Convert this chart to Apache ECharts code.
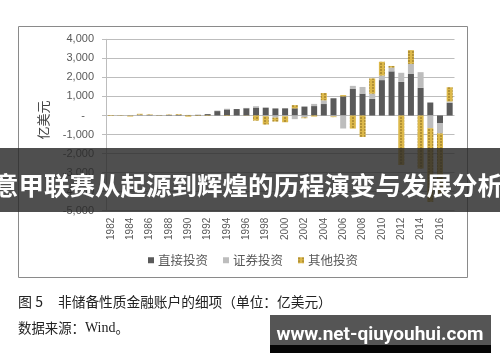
<!DOCTYPE html>
<html><head><meta charset="utf-8">
<script src="https://cdn.jsdelivr.net/npm/echarts@6/dist/echarts.min.js"></script>
<style>html,body{margin:0;padding:0;background:#fff}#c{width:500px;height:362px}</style>
</head><body><div id="c"></div>
<script>
const years = ['1982','1983','1984','1985','1986','1987','1988','1989','1990','1991','1992','1993','1994','1995','1996','1997','1998','1999','2000','2001','2002','2003','2004','2005','2006','2007','2008','2009','2010','2011','2012','2013','2014','2015','2016','2017'];
const direct = [4, 8, 13, 13, 18, 17, 24, 26, 27, 35, 72, 231, 318, 338, 381, 417, 411, 370, 375, 374, 468, 494, 601, 904, 1001, 1391, 1148, 872, 1857, 2317, 1763, 2180, 1450, 681, -417, 663];
const securities = [20, -6, -16, 30, 16, 10, 9, -2, -2, 2, -1, 30, 35, 1, 17, 69, -37, -112, -40, -194, -103, 114, 197, -47, -684, 164, 349, 271, 240, 196, 478, 529, 824, -665, -523, 74];
const other = [-25, -15, -40, 45, 25, -10, 20, 35, -60, -20, -20, 0, -20, 0, -10, -270, -437, -205, -317, 168, -41, -58, 379, -40, 70, -688, -1126, 801, 724, 87, -2601, 722, -2788, -3870, -3167, 744];
const seriesNames = ['直接投资', '证券投资', '其他投资'];
const yTicks = {min: -5000, max: 4000, step: 1000};
const unitName = '亿美元';
const captionTitle = '非储备性质金融账户的细项（单位：亿美元）';
const bannerText = '意甲联赛从起源到辉煌的历程演变与发展分析';
const siteText = 'www.net-qiuyouhui.com';

const chart = echarts.init(document.getElementById('c'), null, {renderer: 'canvas'});
const txt = '#595959';
const gridCol = '#bdbdbd';
chart.setOption({
  animation: false,
  backgroundColor: '#fff',
  grid: {left: 106, right: 45.5, top: 39.3, bottom: 151.3, containLabel: false},
  legend: {
    left: 143, top: 249, itemWidth: 6, itemHeight: 6, itemGap: 15, icon: 'rect',
    textStyle: {fontFamily: 'Noto Sans CJK SC', fontSize: 12.5, color: txt, padding: [0, 0, 0, -1]},
    data: seriesNames
  },
  xAxis: {
    type: 'category', data: years,
    axisLine: {show: false}, axisTick: {show: false},
    axisLabel: {rotate: 90, interval: 1, margin: 7, fontSize: 10, fontFamily: 'Liberation Sans', color: txt}
  },
  yAxis: {
    type: 'value', min: yTicks.min, max: yTicks.max, interval: yTicks.step,
    axisLine: {show: true, lineStyle: {color: gridCol}},
    axisTick: {show: true, length: 4, lineStyle: {color: gridCol}},
    splitLine: {lineStyle: {color: gridCol, width: 1}},
    axisLabel: {
      margin: 12, fontSize: 11, fontFamily: 'Liberation Sans', color: txt,
      formatter: v => v === 0 ? '-   ' : v.toLocaleString('en-US')
    }
  },
  series: [
    {name: seriesNames[0], type: 'bar', stack: 's', data: direct, barWidth: 6, itemStyle: {color: '#5a5a5a'}},
    {name: seriesNames[1], type: 'bar', stack: 's', data: securities, barWidth: 6, itemStyle: {color: '#bdbdbd'}},
    {name: seriesNames[2], type: 'bar', stack: 's', data: other, barWidth: 6,
      itemStyle: {color: '#dcb84a', decal: {symbol: 'rect', symbolSize: 1, color: 'rgba(120,90,25,0.42)', dashArrayX: [2, 2], dashArrayY: [2, 1]}}}
  ],
  graphic: [
    {type: 'rect', shape: {x: 18.5, y: 26.5, width: 449, height: 251}, style: {fill: 'none', stroke: '#8a8a8a', lineWidth: 1}, z: 1},
    {type: 'text', x: 43, y: 120, rotation: Math.PI / 2,
      style: {text: unitName, align: 'center', verticalAlign: 'middle', font: '13px "Noto Sans CJK SC"', fill: '#404040'}},
    {type: 'text', x: 18, y: 302, style: {text: '图 5', verticalAlign: 'middle', font: '14px "Noto Sans CJK SC"', fill: '#222'}},
    {type: 'text', x: 58, y: 302, style: {text: captionTitle, verticalAlign: 'middle', font: '13.7px "Noto Sans CJK SC"', fill: '#222'}},
    {type: 'text', x: 18, y: 328, style: {
      text: '{a|数据来源：}{b|Wind}{a|。}', verticalAlign: 'middle',
      rich: {a: {fontFamily: 'Noto Sans CJK SC', fontSize: 13.4, fill: '#222'}, b: {fontFamily: 'Liberation Serif', fontSize: 14, fill: '#222'}}}},
    {type: 'rect', shape: {x: 0, y: 148, width: 500, height: 64}, style: {fill: 'rgba(40,40,40,0.82)'}, z: 100},
    {type: 'text', x: 248, y: 185, z: 101,
      style: {text: bannerText, align: 'center', verticalAlign: 'middle', font: 'bold 25.5px "Noto Sans CJK SC"', fill: '#fff'}},
    {type: 'rect', shape: {x: 270, y: 315, width: 221, height: 30}, style: {fill: '#555'}, z: 100},
    {type: 'rect', shape: {x: 270, y: 345, width: 221, height: 8}, style: {fill: '#050505'}, z: 100},
    {type: 'text', x: 380, y: 335, z: 101,
      style: {text: siteText, align: 'center', verticalAlign: 'middle', font: 'bold 19px Roboto', fill: '#fff'}}
  ]
});
</script></body></html>
